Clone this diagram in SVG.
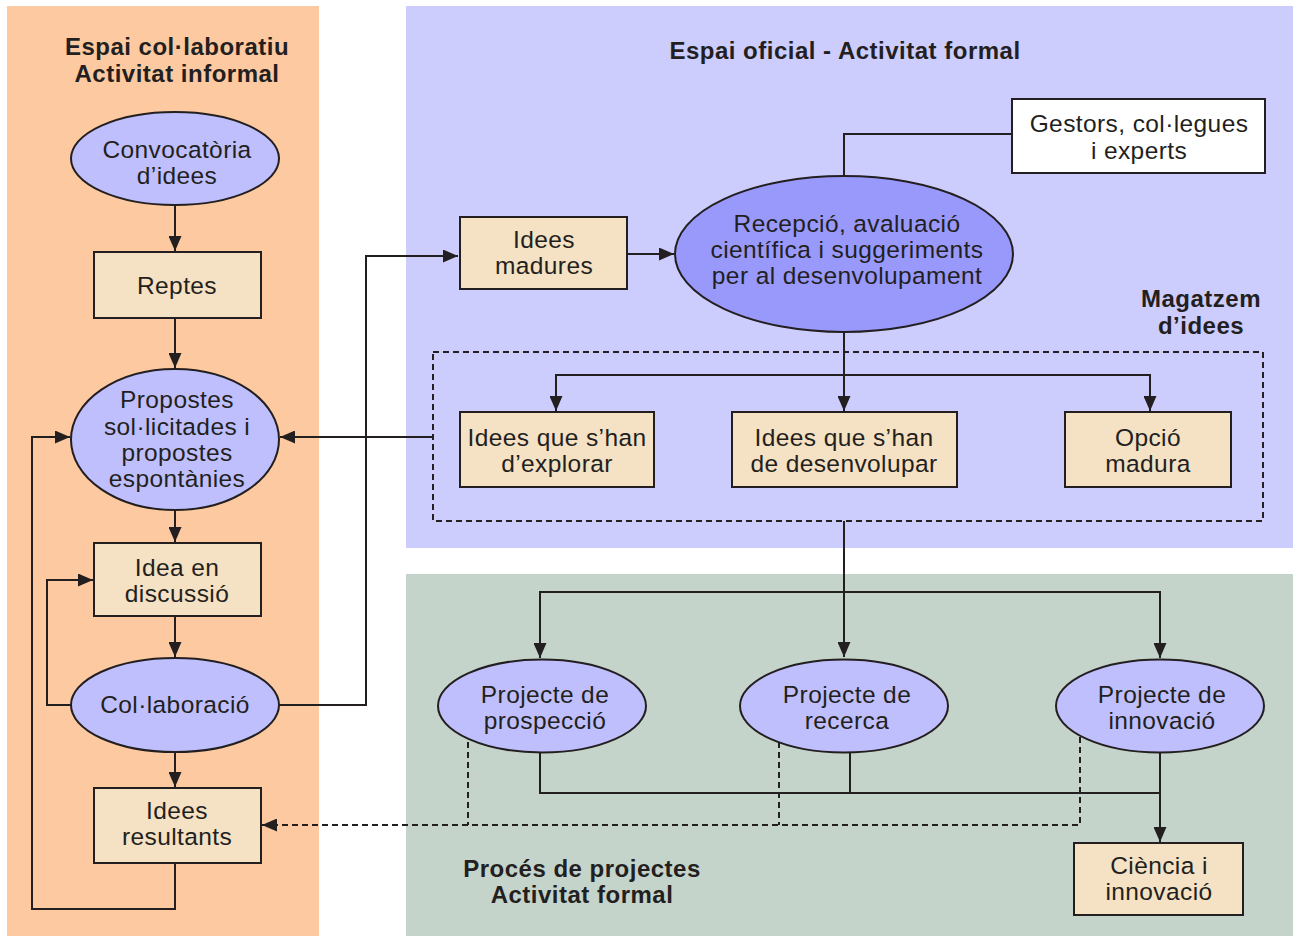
<svg xmlns="http://www.w3.org/2000/svg" width="1293" height="936" viewBox="0 0 1293 936">
<style>
.t{font-family:"Liberation Sans",Arial,sans-serif;font-size:24.5px;letter-spacing:0.4px;fill:#231f20;text-anchor:middle}
.h{font-family:"Liberation Sans",Arial,sans-serif;font-size:24px;letter-spacing:0.5px;font-weight:bold;fill:#231f20;text-anchor:middle}
.el{fill:#bfbffd;stroke:#231f20;stroke-width:2}
.bx{fill:#f5e1c3;stroke:#231f20;stroke-width:2}
.c{fill:none;stroke:#231f20;stroke-width:2}
.d{fill:none;stroke:#231f20;stroke-width:2;stroke-dasharray:6,4}
</style>
<defs>
<marker id="a" viewBox="0 0 15 13" refX="15" refY="6.5" markerWidth="15" markerHeight="13" markerUnits="userSpaceOnUse" orient="auto">
<path d="M0,0 L15,6.5 L0,13 Z" fill="#231f20"/>
</marker>
</defs>
<rect width="1293" height="936" fill="#ffffff"/>
<g id="panels">
<rect x="7" y="6" width="312" height="930" fill="#fdc9a0"/>
<rect x="406" y="6" width="887" height="542" fill="#ccccfd"/>
<rect x="406" y="574" width="887" height="362" fill="#c5d4ca"/>
</g>
<g id="titles">
<text class="h" x="177" y="55">Espai col·laboratiu</text>
<text class="h" x="177" y="82">Activitat informal</text>
<text class="h" x="845" y="59">Espai oficial - Activitat formal</text>
<text class="h" x="1201" y="307">Magatzem</text>
<text class="h" x="1201" y="334">d’idees</text>
<text class="h" x="582" y="877">Procés de projectes</text>
<text class="h" x="582" y="903">Activitat formal</text>
</g>
<g id="connectors">
<line class="c" x1="175" y1="205" x2="175" y2="251" marker-end="url(#a)"/>
<line class="c" x1="175" y1="318" x2="175" y2="368" marker-end="url(#a)"/>
<line class="c" x1="175" y1="510" x2="175" y2="542" marker-end="url(#a)"/>
<line class="c" x1="175" y1="616" x2="175" y2="657" marker-end="url(#a)"/>
<line class="c" x1="175" y1="752" x2="175" y2="787" marker-end="url(#a)"/>
<polyline class="c" points="175,863 175,909 32,909 32,437 70,437" marker-end="url(#a)"/>
<polyline class="c" points="71,705 47,705 47,580 93,580" marker-end="url(#a)"/>
<polyline class="c" points="279,705 366,705 366,256 458,256" marker-end="url(#a)"/>
<line class="c" x1="627" y1="254" x2="674" y2="254" marker-end="url(#a)"/>
<polyline class="c" points="844,176 844,134 1012,134"/>
<line class="c" x1="844" y1="332" x2="844" y2="411" marker-end="url(#a)"/>
<polyline class="c" points="556,411 556,375 1150,375 1150,411" marker-end="url(#a)"/>
<line class="c" x1="556" y1="378" x2="556" y2="411" marker-end="url(#a)"/>
<line class="c" x1="432" y1="437" x2="280" y2="437" marker-end="url(#a)"/>
<line class="c" x1="844" y1="521" x2="844" y2="657" marker-end="url(#a)"/>
<polyline class="c" points="540,658 540,592 1160,592 1160,658" marker-end="url(#a)"/>
<line class="c" x1="540" y1="600" x2="540" y2="658" marker-end="url(#a)"/>
<polyline class="c" points="540,753 540,793 1160,793"/>
<line class="c" x1="850" y1="753" x2="850" y2="793"/>
<line class="c" x1="1160" y1="753" x2="1160" y2="842" marker-end="url(#a)"/>
<polyline class="d" points="468,742 468,825"/>
<polyline class="d" points="779,742 779,825"/>
<polyline class="d" points="1080,737 1080,825 262,825" marker-end="url(#a)"/>
</g>
<g id="magatzem">
<rect x="433" y="352" width="830" height="169" class="d"/>
</g>
<g id="convocatoria">
<ellipse class="el" cx="175" cy="158.5" rx="104" ry="46.5"/>
<text class="t" x="177" y="158">Convocatòria</text>
<text class="t" x="177" y="184">d’idees</text>
</g>
<g id="reptes">
<rect class="bx" x="94" y="252" width="167" height="66"/>
<text class="t" x="177" y="294">Reptes</text>
</g>
<g id="propostes">
<ellipse class="el" cx="175" cy="439.5" rx="104" ry="70.5"/>
<text class="t" x="177" y="408">Propostes</text>
<text class="t" x="177" y="435">sol·licitades i</text>
<text class="t" x="177" y="461">propostes</text>
<text class="t" x="177" y="487">espontànies</text>
</g>
<g id="idea-discussio">
<rect class="bx" x="94" y="543" width="167" height="73"/>
<text class="t" x="177" y="576">Idea en</text>
<text class="t" x="177" y="602">discussió</text>
</g>
<g id="collaboracio">
<ellipse class="el" cx="175" cy="705" rx="104" ry="47"/>
<text class="t" x="175" y="713">Col·laboració</text>
</g>
<g id="idees-resultants">
<rect class="bx" x="94" y="788" width="167" height="75"/>
<text class="t" x="177" y="819">Idees</text>
<text class="t" x="177" y="845">resultants</text>
</g>
<g id="idees-madures">
<rect class="bx" x="460" y="217" width="167" height="72"/>
<text class="t" x="544" y="248">Idees</text>
<text class="t" x="544" y="274">madures</text>
</g>
<g id="recepcio">
<ellipse cx="844" cy="254" rx="169" ry="78" fill="#9999fc" stroke="#231f20" stroke-width="2"/>
<text class="t" x="847" y="232">Recepció, avaluació</text>
<text class="t" x="847" y="258">científica i suggeriments</text>
<text class="t" x="847" y="284">per al desenvolupament</text>
</g>
<g id="gestors">
<rect x="1012" y="99" width="253" height="74" fill="#ffffff" stroke="#231f20" stroke-width="2"/>
<text class="t" x="1139" y="132">Gestors, col·legues</text>
<text class="t" x="1139" y="159">i experts</text>
</g>
<g id="explorar">
<rect class="bx" x="460" y="412" width="194" height="75"/>
<text class="t" x="557" y="446">Idees que s’han</text>
<text class="t" x="557" y="472">d’explorar</text>
</g>
<g id="desenvolupar">
<rect class="bx" x="732" y="412" width="225" height="75"/>
<text class="t" x="844" y="446">Idees que s’han</text>
<text class="t" x="844" y="472">de desenvolupar</text>
</g>
<g id="opcio">
<rect class="bx" x="1065" y="412" width="166" height="75"/>
<text class="t" x="1148" y="446">Opció</text>
<text class="t" x="1148" y="472">madura</text>
</g>
<g id="prospeccio">
<ellipse class="el" cx="542" cy="706" rx="104" ry="46.5"/>
<text class="t" x="545" y="703">Projecte de</text>
<text class="t" x="545" y="729">prospecció</text>
</g>
<g id="recerca">
<ellipse class="el" cx="844" cy="706" rx="104" ry="46.5"/>
<text class="t" x="847" y="703">Projecte de</text>
<text class="t" x="847" y="729">recerca</text>
</g>
<g id="innovacio">
<ellipse class="el" cx="1160" cy="706" rx="104" ry="46.5"/>
<text class="t" x="1162" y="703">Projecte de</text>
<text class="t" x="1162" y="729">innovació</text>
</g>
<g id="ciencia">
<rect class="bx" x="1074" y="843" width="169" height="72"/>
<text class="t" x="1159" y="874">Ciència i</text>
<text class="t" x="1159" y="900">innovació</text>
</g>
</svg>
